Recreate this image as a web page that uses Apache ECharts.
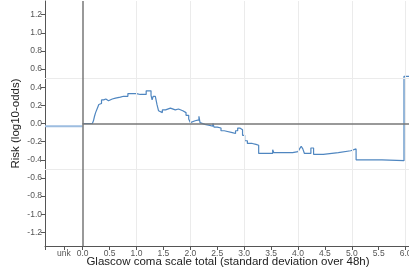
<!DOCTYPE html>
<html>
<head>
<meta charset="utf-8">
<script src="https://cdn.jsdelivr.net/npm/echarts@6/dist/echarts.min.js"></script>
<style>
  html, body { margin: 0; padding: 0; background: #fff; }
  #chart { width: 409px; height: 276px; }
</style>
</head>
<body>
<div id="chart"></div>
<script>
// step points: value holds from x[i] until x[i+1]
const riskX = [
  0.00, 0.18, 0.20, 0.22, 0.24, 0.27, 0.28, 0.30, 0.33, 0.35, 0.39, 0.43, 0.48, 0.55, 0.61,
  0.70, 0.76, 0.79, 0.84, 0.92, 1.00, 1.07, 1.18, 1.27, 1.29, 1.31, 1.35, 1.38, 1.41, 1.44,
  1.48, 1.54, 1.63, 1.72, 1.78, 1.81, 1.86, 1.92, 1.97, 2.00, 2.02, 2.09, 2.16, 2.18, 2.21,
  2.27, 2.36, 2.38, 2.42, 2.44, 2.50, 2.57, 2.63, 2.78, 2.84, 2.88, 2.92, 2.97, 3.01, 3.06,
  3.15, 3.22, 3.27, 3.53, 3.55, 3.75, 3.90, 4.00, 4.03, 4.06, 4.09, 4.12, 4.24, 4.29, 4.47,
  4.75, 4.98, 5.08, 5.56, 5.97, 6.10
];
const riskY = [
  0.00, 0.01, 0.03, 0.08, 0.12, 0.13, 0.18, 0.21, 0.22, 0.26, 0.27, 0.25, 0.27, 0.28, 0.29,
  0.30, 0.31, 0.30, 0.33, 0.33, 0.32, 0.32, 0.36, 0.31, 0.26, 0.30, 0.28, 0.21, 0.14, 0.12,
  0.15, 0.17, 0.15, 0.16, 0.17, 0.14, 0.12, 0.09, 0.05, 0.01, 0.03, 0.04, 0.08, 0.01, -0.01,
  -0.02, 0.00, -0.03, 0.00, -0.04, -0.05, -0.08, -0.10, -0.11, -0.08, -0.05, -0.07, -0.13, -0.19, -0.22,
  -0.23, -0.24, -0.33, -0.29, -0.32, -0.32, -0.31, -0.29, -0.28, -0.25, -0.28, -0.33, -0.27, -0.34, -0.32,
  -0.30, -0.28, -0.40, -0.41, 0.52, 0.52
];
// value for the "unk" bucket, drawn from the left edge up to 0
const unkX = [-0.7, 0];
const unkY = [-0.03, -0.03];

const xTickValues = [-0.7, -0.35, 0, 0.5, 1, 1.5, 2, 2.5, 3, 3.5, 4, 4.5, 5, 5.5, 6];
const xLabelValues = [-0.35, 0, 0.5, 1, 1.5, 2, 2.5, 3, 3.5, 4, 4.5, 5, 5.5, 6];
const yTickValues = [-1.2, -1.0, -0.8, -0.6, -0.4, -0.2, 0, 0.2, 0.4, 0.6, 0.8, 1.0, 1.2];
const xGrid = [1, 2, 3, 4, 5, 6];
const yGrid = [-0.5, 0.5];

const chart = echarts.init(document.getElementById("chart"));
const font = "Liberation Sans, Arial, sans-serif";
const faint = { color: "#ebebeb", width: 1, type: "solid" };
const zero = { color: "#777", width: 1.5, type: "solid" };

chart.setOption({
  animation: false,
  textStyle: { fontFamily: font },
  grid: { left: 45, right: -2, top: 1, bottom: 30, containLabel: false, outerBoundsMode: "none" },
  xAxis: {
    type: "value",
    min: -0.7,
    max: 6.1,
    name: "Glascow coma scale total (standard deviation over 48h)",
    nameLocation: "middle",
    nameGap: 10,
    nameMoveOverlap: false,
    nameTextStyle: { fontSize: 11.5, color: "#222", verticalAlign: "top" },
    axisLine: { show: true, onZero: false, lineStyle: { color: "#555", width: 1 } },
    axisTick: { show: true, length: 4, customValues: xTickValues, lineStyle: { color: "#555" } },
    axisLabel: {
      fontSize: 8.5, color: "#555", margin: 3, customValues: xLabelValues,
      formatter: (v) => (v < 0 ? "unk" : v.toFixed(1)),
    },
    splitLine: { show: false },
  },
  yAxis: {
    type: "value",
    min: -1.35,
    max: 1.35,
    name: "Risk (log10-odds)",
    nameLocation: "middle",
    nameGap: 23,
    nameMoveOverlap: false,
    nameTextStyle: { fontSize: 11.5, color: "#222" },
    axisLine: { show: true, onZero: false, lineStyle: { color: "#555", width: 1 } },
    axisTick: { show: true, length: 4, customValues: yTickValues, lineStyle: { color: "#555" } },
    axisLabel: {
      fontSize: 8.5, color: "#555", margin: 3, customValues: yTickValues,
      formatter: (v) => v.toFixed(1),
    },
    splitLine: { show: false },
  },
  series: [
    {
      type: "line",
      data: [],
      silent: true,
      markLine: {
        silent: true,
        symbol: "none",
        label: { show: false },
        animation: false,
        data: [
          ...xGrid.map((v) => ({ xAxis: v, lineStyle: faint })),
          ...yGrid.map((v) => ({ yAxis: v, lineStyle: faint })),
          { xAxis: 0, lineStyle: zero },
          [{ coord: [0, 0], lineStyle: zero }, { coord: [6.1, 0] }],
        ],
      },
    },
    {
      type: "line",
      step: "end",
      showSymbol: false,
      data: unkX.map((x, i) => [x, unkY[i]]),
      lineStyle: { color: "#9dbde0", width: 2 },
    },
    {
      type: "line",
      step: "end",
      showSymbol: false,
      data: riskX.map((x, i) => [x, riskY[i]]),
      lineStyle: { color: "#4f86c0", width: 1.2 },
    },
  ],
});
</script>
</body>
</html>
